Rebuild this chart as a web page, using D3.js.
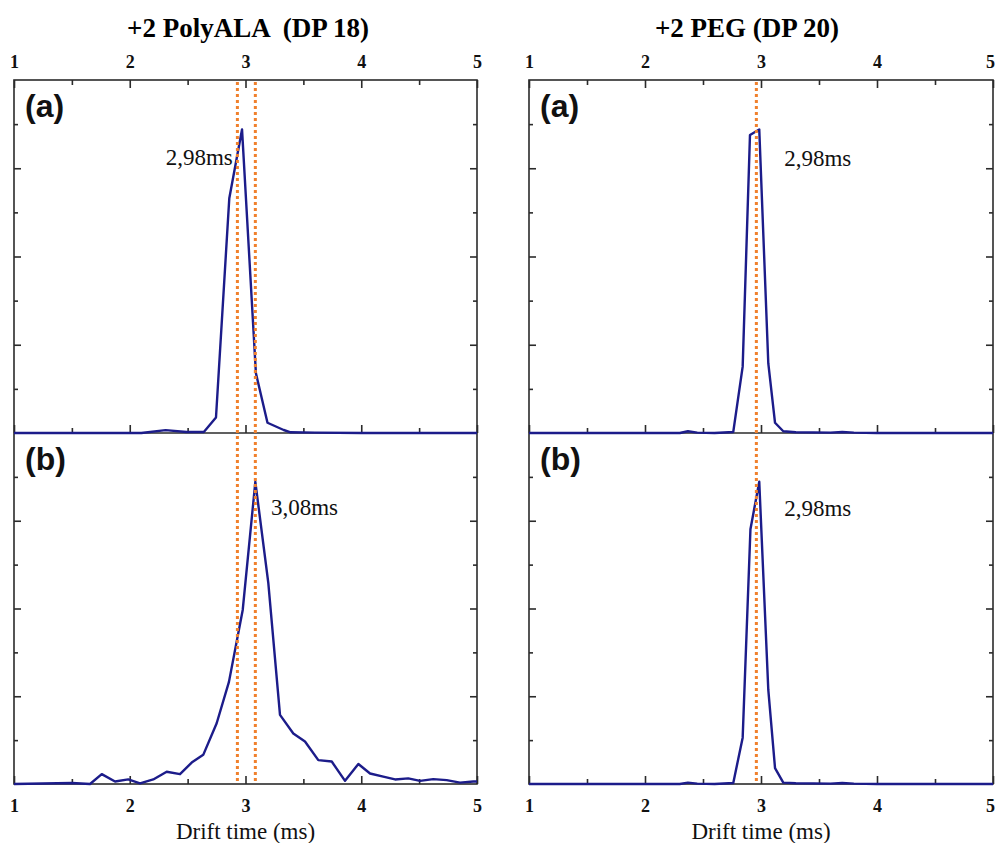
<!DOCTYPE html>
<html><head><meta charset="utf-8">
<script src="https://cdn.jsdelivr.net/npm/d3@7"></script>
<style>body{margin:0;background:#fff} svg{display:block}</style>
</head><body>
<svg id="c" width="996" height="843"></svg>
<script>
// ---- data ----
const titles = ["+2 PolyALA  (DP 18)", "+2 PEG (DP 20)"];
const panelLabels = ["(a)", "(b)"];
const xMajorTicks = [1, 2, 3, 4, 5];
const xMinorTicks = [1.5, 2.5, 3.5, 4.5];
const yMajorTicks = [25, 50, 75];
const yMinorTicks = [12.5, 37.5, 62.5, 87.5];
const xAxisTitle = "Drift time (ms)";

// +2 PolyALA (DP 18), panel (a)
const alaA_x = [1.00, 1.50, 2.00, 2.10, 2.31, 2.49, 2.64, 2.745, 2.86, 2.97, 3.09, 3.19, 3.33, 3.39, 3.60, 4.00, 4.50, 5.00];
const alaA_y = [0, 0, 0, 0, 0.8, 0.3, 0.3, 4.4, 66.5, 86.0, 16.9, 2.9, 0.85, 0.2, 0.1, 0, 0, 0];
// +2 PolyALA (DP 18), panel (b)
const alaB_x = [1.00, 1.50, 1.657, 1.758, 1.873, 1.987, 2.089, 2.203, 2.319, 2.434, 2.535, 2.635, 2.751, 2.857, 2.976, 3.085, 3.197, 3.298, 3.413, 3.514, 3.629, 3.745, 3.860, 3.975, 4.076, 4.190, 4.292, 4.406, 4.508, 4.622, 4.738, 4.853, 4.968, 5.00];
const alaB_y = [0, 0.3, 0, 2.8, 0.7, 1.3, 0.2, 1.3, 3.5, 2.8, 6.1, 8.3, 17.3, 29.1, 49.6, 86.1, 57.3, 19.7, 14.4, 12.1, 6.8, 6.4, 0.9, 5.7, 3.0, 2.1, 1.3, 1.6, 0.9, 1.4, 1.1, 0.4, 0.7, 0.7];
// +2 PEG (DP 20), panel (a)
const pegA_x = [1.00, 2.00, 2.30, 2.37, 2.45, 2.60, 2.761, 2.842, 2.905, 2.985, 3.063, 3.121, 3.192, 3.30, 3.60, 3.70, 3.80, 4.00, 5.00];
const pegA_y = [0, 0, 0, 0.5, 0.1, 0, 0.3, 18.8, 84.4, 86.0, 19.7, 2.9, 0.5, 0.2, 0.1, 0.3, 0.1, 0, 0];
// +2 PEG (DP 20), panel (b)
const pegB_x = [1.00, 2.00, 2.30, 2.37, 2.45, 2.60, 2.761, 2.842, 2.909, 2.985, 3.063, 3.121, 3.192, 3.30, 3.60, 3.70, 3.80, 4.00, 5.00];
const pegB_y = [0, 0, 0, 0.4, 0.1, 0, 0.3, 13.2, 72.6, 86.1, 26.8, 4.5, 0.4, 0.2, 0.1, 0.3, 0.1, 0, 0];

const markerLines = [[2.93, 3.085], [2.96]];
const annotations = [["2,98ms", "3,08ms"], ["2,98ms", "2,98ms"]];

// ---- layout ----
const svg = d3.select("#c");
const cols = [{x0: 14, x1: 477, titleX: 248}, {x0: 529, x1: 993, titleX: 747}];
const rows = [{top: 80, bottom: 433}, {top: 433, bottom: 784}];
const series = [[[alaA_x, alaA_y], [alaB_x, alaB_y]], [[pegA_x, pegA_y], [pegB_x, pegB_y]]];
const frameColor = "#2b2b2b";
const lineColor = "#1c1c8a";
const orange = "#f0802c";
const serif = "'Liberation Serif','Times New Roman',serif";
const sans = "'Liberation Sans',Arial,sans-serif";

cols.forEach((c, ci) => {
  const x = d3.scaleLinear().domain([1, 5]).range([c.x0, c.x1]);
  const g = svg.append("g");

  // title
  g.append("text").attr("x", c.titleX).attr("y", 37)
    .attr("text-anchor", "middle").attr("font-family", serif).attr("font-weight", "bold")
    .attr("font-size", 27).text(titles[ci]).style("white-space", "pre");

  // frame
  g.append("rect").attr("x", c.x0).attr("y", rows[0].top)
    .attr("width", c.x1 - c.x0).attr("height", rows[1].bottom - rows[0].top)
    .attr("fill", "none").attr("stroke", frameColor).attr("stroke-width", 1.6);
  g.append("line").attr("x1", c.x0).attr("x2", c.x1).attr("y1", rows[0].bottom).attr("y2", rows[0].bottom)
    .attr("stroke", frameColor).attr("stroke-width", 1.6);

  // top x axis (labels outside, ticks inside)
  const topAx = g.append("g").attr("transform", `translate(0,${rows[0].top})`)
    .call(d3.axisTop(x).tickValues(xMajorTicks).tickSizeInner(-8).tickSizeOuter(0).tickFormat(d3.format("d")));
  const topMin = g.append("g").attr("transform", `translate(0,${rows[0].top})`)
    .call(d3.axisTop(x).tickValues(xMinorTicks).tickSizeInner(-5).tickSizeOuter(0).tickFormat(""));
  // mid line ticks (bottom of panel a)
  const midMaj = g.append("g").attr("transform", `translate(0,${rows[0].bottom})`)
    .call(d3.axisBottom(x).tickValues(xMajorTicks).tickSizeInner(-8).tickSizeOuter(0).tickFormat(""));
  const midMin = g.append("g").attr("transform", `translate(0,${rows[0].bottom})`)
    .call(d3.axisBottom(x).tickValues(xMinorTicks).tickSizeInner(-5).tickSizeOuter(0).tickFormat(""));
  // bottom axis
  const botAx = g.append("g").attr("transform", `translate(0,${rows[1].bottom})`)
    .call(d3.axisBottom(x).tickValues(xMajorTicks).tickSizeInner(-8).tickSizeOuter(0).tickFormat(d3.format("d")));
  const botMin = g.append("g").attr("transform", `translate(0,${rows[1].bottom})`)
    .call(d3.axisBottom(x).tickValues(xMinorTicks).tickSizeInner(-5).tickSizeOuter(0).tickFormat(""));

  [topAx, topMin, midMaj, midMin, botAx, botMin].forEach(a => {
    a.select(".domain").remove();
    a.selectAll("line").attr("stroke", frameColor).attr("stroke-width", 1.6);
    a.selectAll("text").attr("font-family", serif).attr("font-weight", "bold")
      .attr("font-size", 18).attr("fill", "#111");
  });
  topAx.selectAll("text").attr("y", -12).attr("dy", null);
  botAx.selectAll("text").attr("y", 28).attr("dy", null);
  // keep the last label of the right panel inside the page edge
  if (ci === 1) {
    [topAx, botAx].forEach(a => a.selectAll("text").filter(d => d === 5).attr("dx", -3));
  }

  // x axis title
  g.append("text").attr("x", x(3)).attr("y", 839).attr("text-anchor", "middle")
    .attr("font-family", serif).attr("font-size", 23).attr("fill", "#111").text(xAxisTitle);

  rows.forEach((r, ri) => {
    const y = d3.scaleLinear().domain([0, 100]).range([r.bottom, r.top]);
    [[yMajorTicks, 7], [yMinorTicks, 4]].forEach(([vals, len]) => {
      const la = g.append("g").attr("transform", `translate(${c.x0},0)`)
        .call(d3.axisLeft(y).tickValues(vals).tickSizeInner(-len).tickSizeOuter(0).tickFormat(""));
      const ra = g.append("g").attr("transform", `translate(${c.x1},0)`)
        .call(d3.axisRight(y).tickValues(vals).tickSizeInner(-len).tickSizeOuter(0).tickFormat(""));
      [la, ra].forEach(a => {
        a.select(".domain").remove();
        a.selectAll("line").attr("stroke", frameColor).attr("stroke-width", 1.6);
      });
    });

    // panel label
    g.append("text").attr("x", c.x0 + 11).attr("y", r.top + 37)
      .attr("font-family", sans).attr("font-weight", "bold").attr("font-size", 32)
      .attr("fill", "#111").text(panelLabels[ri]);

    // data line
    const [xs, ys] = series[ci][ri];
    const pts = xs.map((d, i) => [d, ys[i]]);
    g.append("path").datum(pts)
      .attr("d", d3.line().x(d => x(d[0])).y(d => y(d[1])))
      .attr("fill", "none").attr("stroke", lineColor).attr("stroke-width", 2.4)
      .attr("stroke-linejoin", "round");
  });

  // orange dotted markers
  markerLines[ci].forEach(m => {
    g.append("line").attr("x1", x(m)).attr("x2", x(m))
      .attr("y1", rows[0].top + 2).attr("y2", rows[1].bottom)
      .attr("stroke", orange).attr("stroke-width", 3).attr("stroke-dasharray", "3,3");
  });

  // annotations
  const annY = [165, 515];
  if (ci === 0) {
    g.append("text").attr("x", x(2.89)).attr("y", annY[0]).attr("text-anchor", "end")
      .attr("font-family", serif).attr("font-size", 23).attr("fill", "#111").text(annotations[0][0]);
    g.append("text").attr("x", x(3.22)).attr("y", annY[1]).attr("text-anchor", "start")
      .attr("font-family", serif).attr("font-size", 23).attr("fill", "#111").text(annotations[0][1]);
  } else {
    annotations[1].forEach((t, i) => {
      g.append("text").attr("x", x(3.2)).attr("y", annY[i] + 1).attr("text-anchor", "start")
        .attr("font-family", serif).attr("font-size", 23).attr("fill", "#111").text(t);
    });
  }
});
</script>
</body></html>
